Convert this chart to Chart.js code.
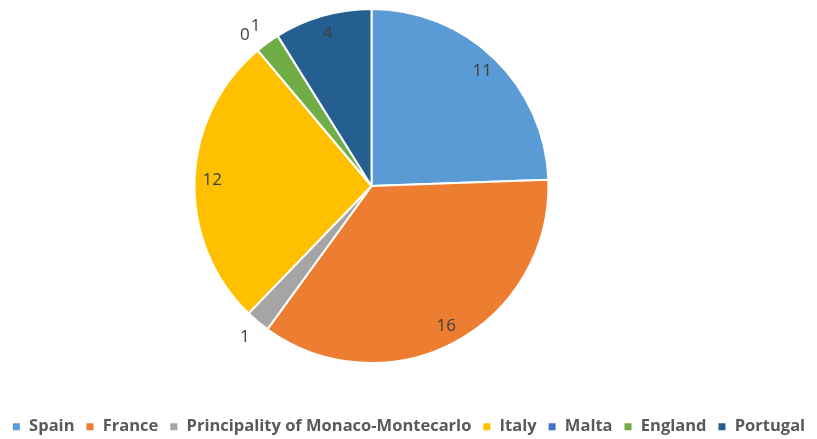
<!DOCTYPE html>
<html>
<head>
<meta charset="utf-8">
<script src="https://cdn.jsdelivr.net/npm/chart.js@4"></script>
<style>
  html, body { margin: 0; padding: 0; background: #fff; }
  #wrap { width: 817px; height: 439px; }
</style>
</head>
<body>
<div id="wrap"><canvas id="chart" width="817" height="439"></canvas></div>
<script>
'use strict';

// players per country
var countries = ['Spain', 'France', 'Principality of Monaco-Montecarlo', 'Italy', 'Malta', 'England', 'Portugal'];
var counts = [11, 16, 1, 12, 0, 1, 4];
var sliceColors = ['#5B9BD5', '#ED7D31', '#A5A5A5', '#FFC000', '#4472C4', '#70AD47', '#255E91'];

// pie sits left of centre with a gap above the legend
var pieBox = {
    shiftX: -37,
    height: 356
};

var pieArea = {
    id: 'pieArea',
    afterLayout: function(chart) {
        var area = chart.chartArea;
        area.top = 8;
        area.left += pieBox.shiftX;
        area.right += pieBox.shiftX;
        area.bottom = area.top + pieBox.height;
        area.width = area.right - area.left;
        area.height = area.bottom - area.top;
    }
};

// value labels: inside large slices, just outside thin ones
var sliceLabels = {
    id: 'sliceLabels',
    afterDatasetsDraw: function(chart) {
        var ctx = chart.ctx;
        var meta = chart.getDatasetMeta(0);
        ctx.save();
        ctx.font = '17px "Open Sans", sans-serif';
        ctx.fillStyle = '#404040';
        ctx.textAlign = 'center';
        ctx.textBaseline = 'middle';
        meta.data.forEach(function(arc, i) {
            var p = arc.getProps(['x', 'y', 'startAngle', 'endAngle', 'outerRadius'], true);
            var mid = (p.startAngle + p.endAngle) / 2;
            var span = p.endAngle - p.startAngle;
            var dist = span < 0.3 ? p.outerRadius + 20 : p.outerRadius * 0.9;
            ctx.fillText(String(counts[i]), p.x + Math.cos(mid) * dist, p.y + Math.sin(mid) * dist);
        });
        ctx.restore();
    }
};

new Chart(document.getElementById('chart'), {
    type: 'pie',
    data: {
        labels: countries,
        datasets: [{
            data: counts,
            backgroundColor: sliceColors,
            borderColor: '#ffffff',
            borderWidth: 2
        }]
    },
    options: {
        responsive: false,
        animation: false,
        layout: { padding: { top: 0, left: 0, right: 0, bottom: -6 } },
        plugins: {
            tooltip: { enabled: false },
            legend: {
                position: 'bottom',
                labels: {
                    boxWidth: 9,
                    boxHeight: 9,
                    padding: 11,
                    color: '#595959',
                    font: { family: '"Open Sans", sans-serif', size: 16.5, weight: 'bold' }
                }
            }
        }
    },
    plugins: [pieArea, sliceLabels]
});
</script>
</body>
</html>
